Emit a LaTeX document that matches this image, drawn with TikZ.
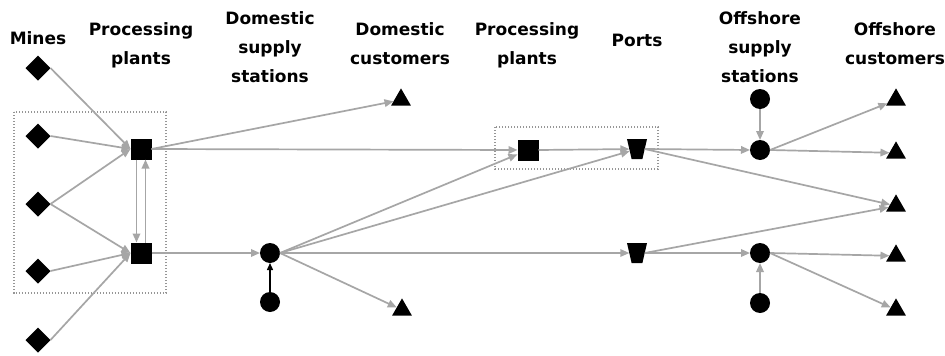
\documentclass[tikz,border=0pt]{standalone}
\usepackage{fontspec}
\setmainfont{DejaVu Sans}
\usetikzlibrary{arrows.meta,shapes.geometric}
\definecolor{edgegray}{RGB}{166,166,166}
\definecolor{boxgray}{RGB}{150,150,150}
\tikzset{
  mine/.style={diamond,fill=black,inner sep=0pt,minimum width=25pt,minimum height=25pt,outer sep=0pt},
  plant/.style={rectangle,fill=black,inner sep=0pt,minimum size=21pt,outer sep=0pt},
  station/.style={circle,fill=black,inner sep=0pt,minimum size=20pt,outer sep=0pt},
  cust/.style={regular polygon,regular polygon sides=3,fill=black,inner sep=0pt,minimum size=23pt,outer sep=0pt,yshift=-2.9pt},
  port/.style={trapezium,trapezium angle=77,shape border rotate=180,fill=black,inner xsep=5.4pt,inner ysep=10pt,outer sep=0pt},
  flow/.style={draw=edgegray,line width=1.7pt,-{Triangle[length=9pt,width=7.5pt]}},
  blackflow/.style={draw=black,line width=1.4pt,-{Triangle[length=7pt,width=6pt]}},
  groupbox/.style={draw=boxgray,line width=1.1pt,dash pattern=on 1.1pt off 1.9pt},
  title/.style={font=\bfseries\fontsize{17}{28.8}\selectfont,align=center,anchor=base,inner sep=0pt}
}
\begin{document}
\begin{tikzpicture}[x=1pt,y=-1pt]
\useasboundingbox[fill=white] (0,0) rectangle (945,356);
% group boxes
\draw[groupbox] (14,112) rectangle (166,293);
\draw[groupbox] (495,127) rectangle (658,169);
% titles (anchor at baseline of last line)
\node[title] (tmines) at (38,44) {Mines};
\node[title] (tpp1) at (141,64) {Processing\\plants};
\node[title] (tdss) at (270,82) {Domestic\\supply\\stations};
\node[title] (tdc) at (400,64) {Domestic\\customers};
\node[title] (tpp2) at (527,64) {Processing\\plants};
\node[title] (tports) at (637,46) {Ports};
\node[title] (toss) at (760,82) {Offshore\\supply\\stations};
\node[title] (toc) at (895,64) {Offshore\\customers};
% nodes
\node[mine] (m1) at (38,68) {};
\node[mine] (m2) at (38,136) {};
\node[mine] (m3) at (38,204) {};
\node[mine] (m4) at (38,271) {};
\node[mine] (m5) at (38,340) {};
\node[plant] (pp1) at (141,149) {};
\node[plant] (pp2) at (141,253) {};
\node[station] (dss) at (270,253) {};
\node[station] (dss0) at (270,302) {};
\node[cust] (dc1) at (401,97) {};
\node[cust] (dc2) at (402,307) {};
\node[plant] (pq) at (528,150) {};
\node[port] (pt1) at (637,149) {};
\node[port] (pt2) at (637,253) {};
\node[station] (os0) at (760,99) {};
\node[station] (os1) at (760,150) {};
\node[station] (os2) at (760,253) {};
\node[station] (os3) at (760,303) {};
\node[cust] (c1) at (896,97) {};
\node[cust] (c2) at (896,150) {};
\node[cust] (c3) at (896,203) {};
\node[cust] (c4) at (896,253) {};
\node[cust] (c5) at (896,307) {};
% mines to plants
\draw[flow] (m1.east) -- (pp1.west);
\draw[flow] (m2.east) -- (pp1.west);
\draw[flow] (m3.east) -- (pp1.west);
\draw[flow] (m3.east) -- (pp2.west);
\draw[flow] (m4.east) -- (pp2.west);
\draw[flow] (m5.east) -- (pp2.west);
% between plants
\draw[flow] ([xshift=-4.5pt]pp1.south) -- ([xshift=-4.5pt]pp2.north);
\draw[flow] ([xshift=4.5pt]pp2.north) -- ([xshift=4.5pt]pp1.south);
% from upper plant
\draw[flow] (pp1.east) -- (dc1);
\draw[flow] (pp1.east) -- (pq.west);
% from lower plant
\draw[flow] (pp2.east) -- (dss.west);
\draw[blackflow] (dss0) -- (dss);
% from domestic supply station
\draw[flow] (dss.east) -- (dc2);
\draw[flow] (dss.east) -- (pq);
\draw[flow] (dss.east) -- (pt1);
\draw[flow] (dss.east) -- (pt2);
% second plant to port
\draw[flow] (pq.east) -- (pt1);
% from ports
\draw[flow] (pt1.east) -- (os1.west);
\draw[flow] (pt1.east) -- (c3);
\draw[flow] (pt2.east) -- (c3);
\draw[flow] (pt2.east) -- (os2.west);
% offshore supply
\draw[flow] (os0) -- (os1);
\draw[flow] (os3) -- (os2);
\draw[flow] (os1.east) -- (c1);
\draw[flow] (os1.east) -- (c2);
\draw[flow] (os2.east) -- (c4);
\draw[flow] (os2.east) -- (c5);
\end{tikzpicture}
\end{document}
